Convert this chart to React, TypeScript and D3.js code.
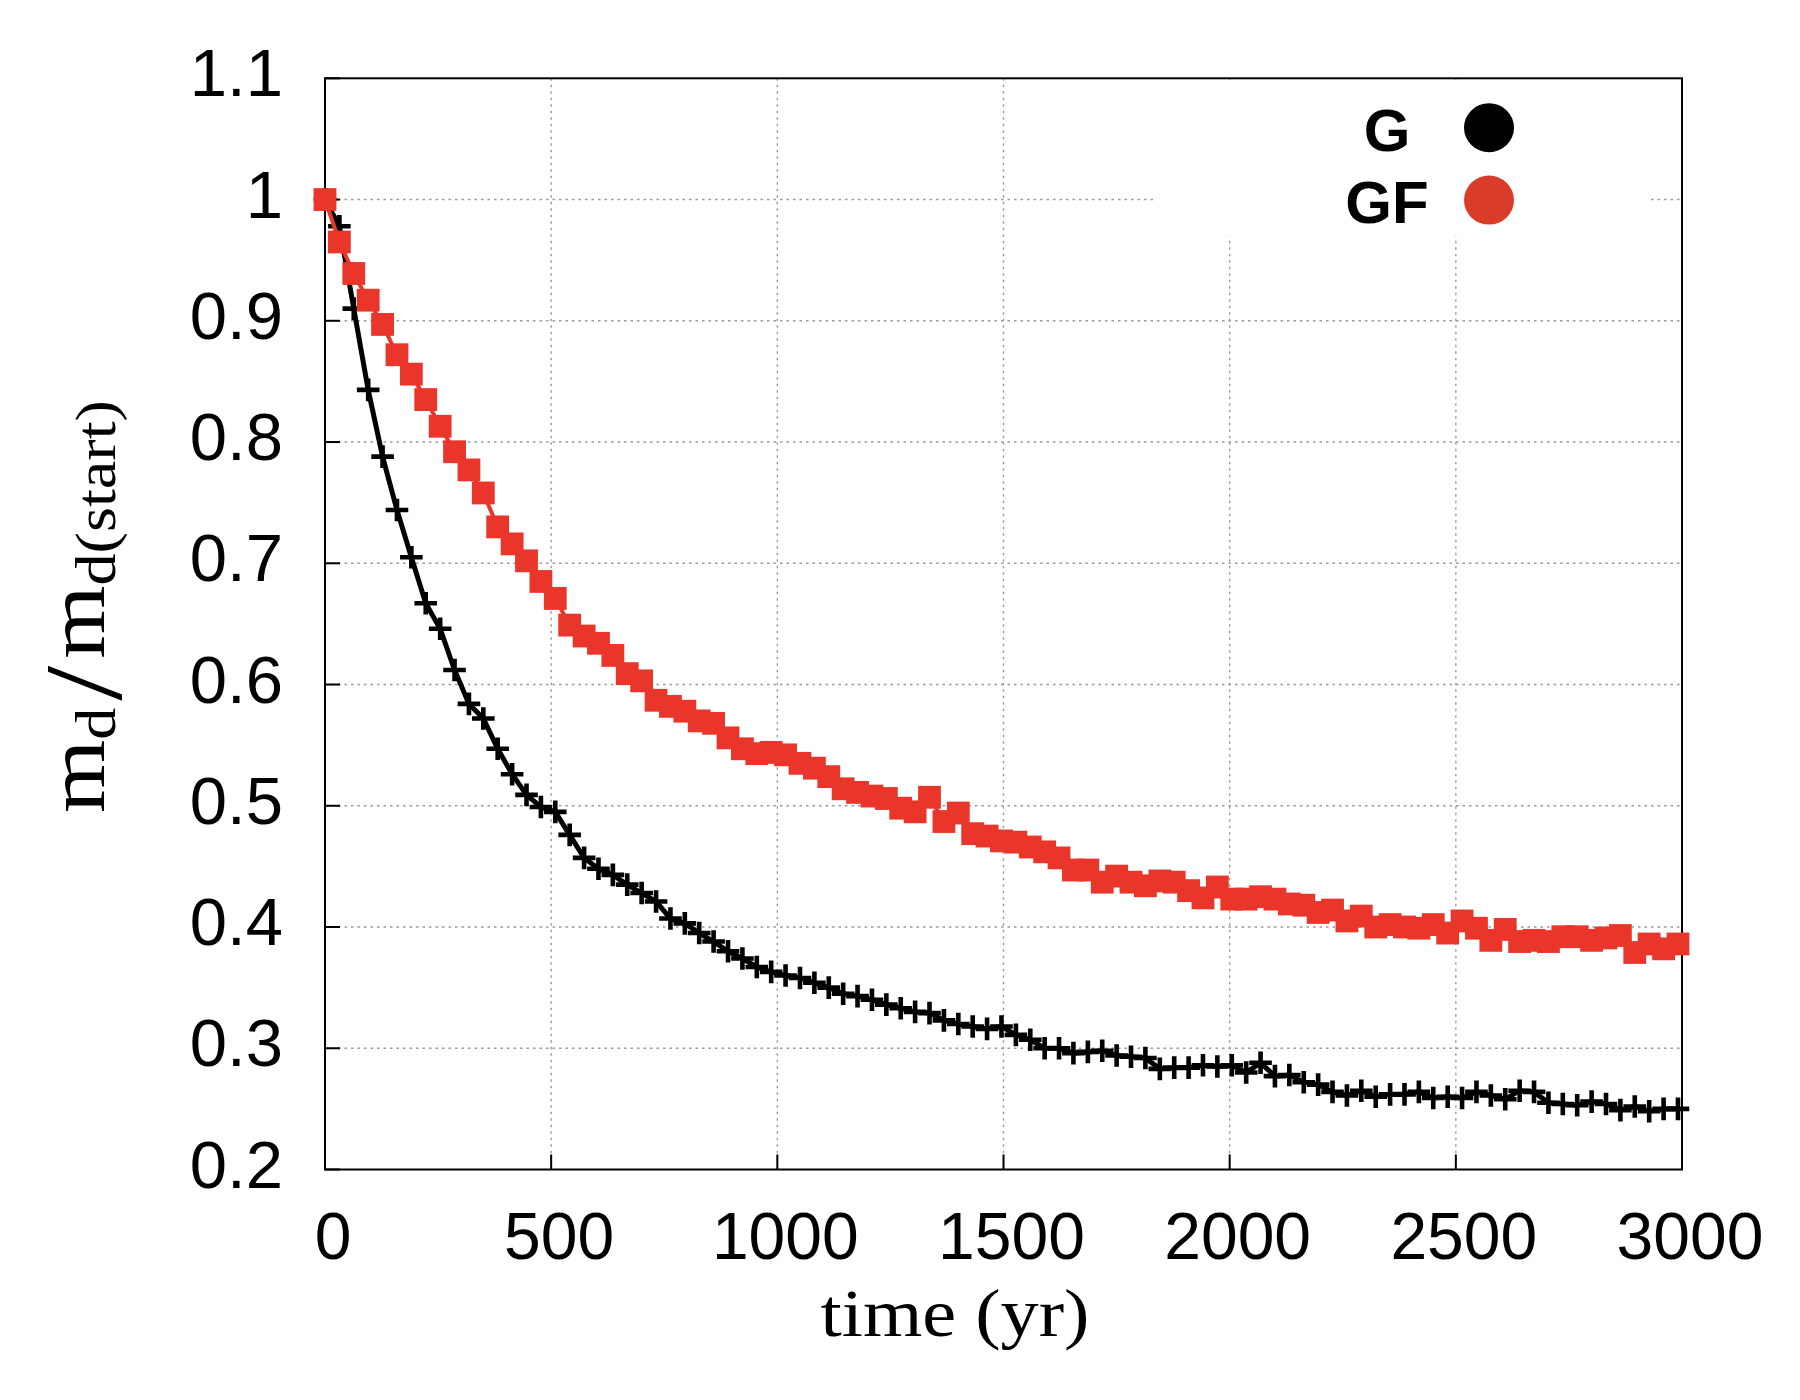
import React, { useEffect, useRef } from 'react'
import * as d3 from 'd3'

// time of each output (yr)
const times = [
  0, 31.8, 63.6, 95.5, 127.3, 159.1, 190.9, 222.7, 254.6, 286.4,
  318.2, 350.0, 381.8, 413.7, 445.5, 477.3, 509.1, 540.9, 572.8, 604.6,
  636.4, 668.2, 700.0, 731.9, 763.7, 795.5, 827.3, 859.1, 891.0, 922.8,
  954.6, 986.4, 1018.2, 1050.1, 1081.9, 1113.7, 1145.5, 1177.3, 1209.2, 1241.0,
  1272.8, 1304.6, 1336.4, 1368.3, 1400.1, 1431.9, 1463.7, 1495.5, 1527.4, 1559.2,
  1591.0, 1622.8, 1654.6, 1686.5, 1718.3, 1750.1, 1781.9, 1813.7, 1845.6, 1877.4,
  1909.2, 1941.0, 1972.8, 2004.7, 2036.5, 2068.3, 2100.1, 2131.9, 2163.8, 2195.6,
  2227.4, 2259.2, 2291.0, 2322.9, 2354.7, 2386.5, 2418.3, 2450.1, 2482.0, 2513.8,
  2545.6, 2577.4, 2609.2, 2641.1, 2672.9, 2704.7, 2736.5, 2768.3, 2800.2, 2832.0,
  2863.8, 2895.6, 2927.4, 2959.3, 2991.1,
]

// G run
const massG = [
  1.0, 0.978, 0.91, 0.843, 0.788, 0.744, 0.705, 0.667, 0.646, 0.612,
  0.584, 0.572, 0.547, 0.526, 0.509, 0.499, 0.495, 0.476, 0.457, 0.448,
  0.443, 0.435, 0.428, 0.421, 0.407, 0.403, 0.395, 0.388, 0.38, 0.374,
  0.367, 0.363, 0.36, 0.358, 0.354, 0.35, 0.345, 0.343, 0.34, 0.336,
  0.333, 0.33, 0.329, 0.323, 0.32, 0.318, 0.316, 0.318, 0.311, 0.307,
  0.3, 0.3, 0.296, 0.297, 0.298, 0.294, 0.293, 0.292, 0.283, 0.284,
  0.284, 0.286, 0.285, 0.286, 0.28, 0.288, 0.277, 0.278, 0.272, 0.27,
  0.264, 0.261, 0.265, 0.26, 0.262, 0.262, 0.264, 0.259, 0.26, 0.259,
  0.264, 0.261, 0.258, 0.265, 0.264, 0.255, 0.254, 0.253, 0.256, 0.254,
  0.249, 0.252, 0.248, 0.25, 0.25,
]

// GF run
const massGF = [
  1.0, 0.965, 0.939, 0.917, 0.897, 0.872, 0.856, 0.835, 0.813, 0.792,
  0.777, 0.758, 0.73, 0.716, 0.702, 0.685, 0.671, 0.649, 0.64, 0.634,
  0.624, 0.609, 0.603, 0.587, 0.582, 0.578, 0.57, 0.568, 0.556, 0.547,
  0.543, 0.544, 0.542, 0.535, 0.531, 0.524, 0.514, 0.511, 0.508, 0.506,
  0.498, 0.495, 0.507, 0.487, 0.494, 0.477, 0.475, 0.471, 0.47, 0.466,
  0.462, 0.457, 0.447, 0.447, 0.437, 0.442, 0.437, 0.434, 0.438, 0.437,
  0.43, 0.424, 0.433, 0.423, 0.423, 0.425, 0.423, 0.419, 0.418, 0.412,
  0.414, 0.405, 0.409, 0.4, 0.402, 0.4, 0.399, 0.402, 0.395, 0.405,
  0.399, 0.389, 0.398, 0.388, 0.389, 0.388, 0.392, 0.392, 0.389, 0.391,
  0.393, 0.379, 0.386, 0.382, 0.386,
]

const xTicks = [0, 500, 1000, 1500, 2000, 2500, 3000]
const yTicks = [0.2, 0.3, 0.4, 0.5, 0.6, 0.7, 0.8, 0.9, 1, 1.1]
const legendNames = ['G', 'GF']
const legendColors = ['#000000', '#d93d29']

const RED = '#e9352a'

const App = () => {
  const refSvg = useRef<SVGSVGElement>(null)

  useEffect(() => {
    const svg = d3.select(refSvg.current)
    svg.selectAll('*').remove()

    const left = 325
    const right = 1682
    const top = 78.3
    const bottom = 1169.5

    const x = d3.scaleLinear().domain([0, 3000]).range([left, right])
    const y = d3.scaleLinear().domain([0.2, 1.1]).range([bottom, top])

    svg.append('rect').attr('width', 1800).attr('height', 1400).attr('fill', '#fff')

    // grid
    const grid = svg.append('g').attr('stroke', '#9a9a9a').attr('stroke-width', 1.4).attr('stroke-dasharray', '2.5,4')
    grid.selectAll('.gx').data(xTicks.slice(1, -1)).enter().append('line')
      .attr('x1', (d) => x(d)).attr('x2', (d) => x(d)).attr('y1', top).attr('y2', bottom)
    grid.selectAll('.gy').data(yTicks.slice(1, -1)).enter().append('line')
      .attr('y1', (d) => y(d)).attr('y2', (d) => y(d)).attr('x1', left).attr('x2', right)

    // legend background hides the grid
    svg.append('rect').attr('x', 1157).attr('y', top + 1.5).attr('width', 490).attr('height', 236.5 - top - 1.5).attr('fill', '#fff')

    // ticks
    const ticks = svg.append('g').attr('stroke', '#000').attr('stroke-width', 2)
    ticks.selectAll('.tx').data(xTicks).enter().append('line')
      .attr('x1', (d) => x(d)).attr('x2', (d) => x(d)).attr('y1', bottom).attr('y2', bottom - 15)
    ticks.selectAll('.ty').data(yTicks).enter().append('line')
      .attr('y1', (d) => y(d)).attr('y2', (d) => y(d)).attr('x1', left).attr('x2', left + 15)

    // frame
    svg.append('rect').attr('x', left).attr('y', top).attr('width', right - left).attr('height', bottom - top)
      .attr('fill', 'none').attr('stroke', '#000').attr('stroke-width', 2)

    // tick labels
    svg.append('g').selectAll('text').data(xTicks).enter().append('text')
      .attr('x', (d) => x(d) + 8).attr('y', 1259)
      .attr('text-anchor', 'middle').attr('font-family', 'Liberation Sans, Arial, sans-serif').attr('font-size', 66)
      .text((d) => String(d))
    svg.append('g').selectAll('text').data(yTicks).enter().append('text')
      .attr('x', 283).attr('y', (d) => y(d) + 18)
      .attr('text-anchor', 'end').attr('font-family', 'Liberation Sans, Arial, sans-serif').attr('font-size', 67)
      .text((d) => String(d))

    const data = times.map((t, i) => ({ t, g: massG[i], gf: massGF[i] }))

    // G: black line with plus points
    const lineG = d3.line<{ t: number; g: number }>().x((d) => x(d.t)).y((d) => y(d.g))
    svg.append('path').datum(data).attr('d', lineG).attr('fill', 'none').attr('stroke', '#000').attr('stroke-width', 5)
    svg.append('g').selectAll('path').data(data).enter().append('path')
      .attr('transform', (d) => `translate(${x(d.t)},${y(d.g)})`)
      .attr('d', 'M-11.3,0H11.3M0,-11.3V11.3')
      .attr('stroke', '#000').attr('stroke-width', 4.6)

    // GF: red line with square points
    const lineGF = d3.line<{ t: number; gf: number }>().x((d) => x(d.t)).y((d) => y(d.gf))
    svg.append('path').datum(data).attr('d', lineGF).attr('fill', 'none').attr('stroke', RED).attr('stroke-width', 4)
    svg.append('g').selectAll('rect').data(data).enter().append('rect')
      .attr('x', (d) => x(d.t) - 11.4).attr('y', (d) => y(d.gf) - 11.4)
      .attr('width', 22.8).attr('height', 22.8).attr('fill', RED)

    // legend
    const legend = svg.append('g')
    legendNames.forEach((name, i) => {
      legend.append('text').attr('x', 1387).attr('y', 150.7 + i * 72.6)
        .attr('text-anchor', 'middle').attr('font-family', 'Liberation Sans, Arial, sans-serif')
        .attr('font-weight', 'bold').attr('font-size', 60).text(name)
      legend.append('ellipse').attr('cx', 1489).attr('cy', 127.7 + i * 72.4).attr('rx', 25).attr('ry', 24.5)
        .attr('fill', legendColors[i])
    })

    // axis titles
    svg.append('text').attr('x', 955).attr('y', 1336).attr('text-anchor', 'middle')
      .attr('font-family', 'Liberation Serif, Times New Roman, serif').attr('font-size', 67)
      .attr('textLength', 269).attr('lengthAdjust', 'spacingAndGlyphs')
      .text('time (yr)')

    const yl = svg.append('text').attr('transform', 'translate(104,606.5) rotate(-90)').attr('text-anchor', 'middle')
      .attr('font-family', 'Liberation Serif, Times New Roman, serif').attr('font-size', 82)
      .attr('textLength', 413).attr('lengthAdjust', 'spacingAndGlyphs')
    yl.append('tspan').text('m')
    yl.append('tspan').attr('font-size', 56).attr('dy', 11).text('d')
    yl.append('tspan').attr('font-size', 110).attr('dy', 6).attr('dx', 6).text('/')
    yl.append('tspan').attr('dy', -17).attr('dx', 6).text('m')
    yl.append('tspan').attr('font-size', 56).attr('dy', 11).text('d(start)')
  }, [])

  return <svg ref={refSvg} width={1800} height={1400} style={{ position: 'absolute', left: 0, top: 0 }} />
}

export default App
